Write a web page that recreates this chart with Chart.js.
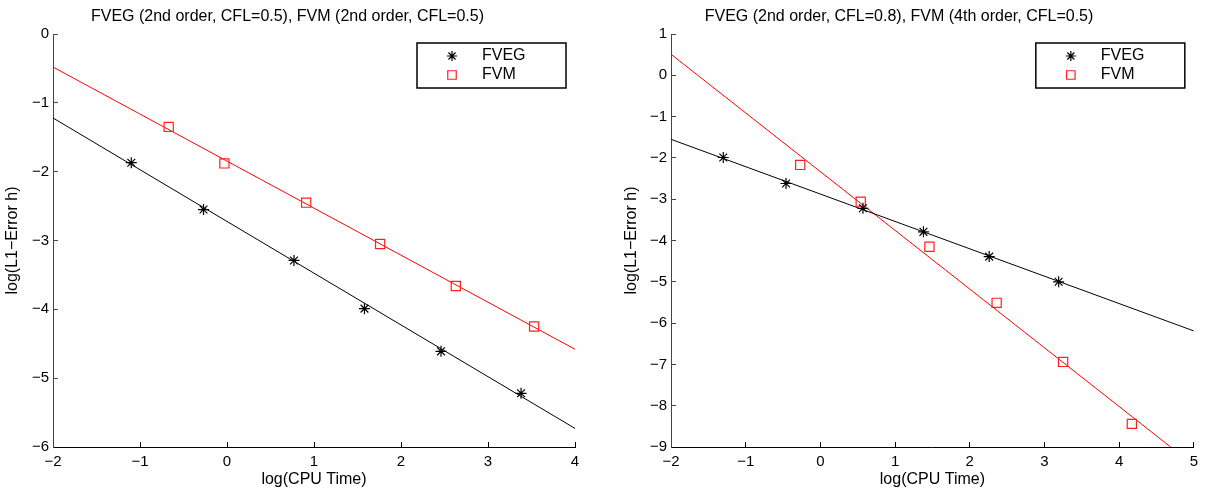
<!DOCTYPE html>
<html>
<head>
<meta charset="utf-8">
<script src="https://cdn.jsdelivr.net/npm/chart.js@4.4.1/dist/chart.umd.min.js"></script>
<style>
  body { margin: 0; background: #fff; }
  canvas { position: absolute; top: 0; }
  #c1 { left: 0; }
  #c2 { left: 604px; }
</style>
</head>
<body>
<canvas id="c1" width="604" height="493"></canvas>
<canvas id="c2" width="605" height="493"></canvas>
<script>
// left panel: FVEG 2nd order vs FVM 2nd order
const titulo1 = 'FVEG (2nd order, CFL=0.5), FVM (2nd order, CFL=0.5)';
const fvegX1 = [-1.10, -0.27, 0.77, 1.58, 2.46, 3.38];
const fvegY1 = [-1.87, -2.55, -3.29, -3.99, -4.61, -5.22];
const fvmX1 = [-0.67, -0.03, 0.91, 1.76, 2.63, 3.53];
const fvmY1 = [-1.35, -1.88, -2.45, -3.05, -3.66, -4.25];
const retaX1 = [-2, 4];
const retaFveg1 = [-1.22, -5.73];
const retaFvm1 = [-0.48, -4.58];

// right panel: FVEG 2nd order vs FVM 4th order
const titulo2 = 'FVEG (2nd order, CFL=0.8), FVM (4th order, CFL=0.5)';
const fvegX2 = [-1.30, -0.46, 0.57, 1.38, 2.26, 3.19];
const fvegY2 = [-1.99, -2.62, -3.22, -3.79, -4.39, -5.00];
const fvmX2 = [-0.27, 0.54, 1.46, 2.36, 3.25, 4.17];
const fvmY2 = [-2.17, -3.06, -4.15, -5.51, -6.94, -8.44];
const retaXFveg2 = [-2, 5];
const retaFveg2 = [-1.55, -6.19];
const retaXFvm2 = [-2, 4.69];
const retaFvm2 = [0.51, -9.00];

const legendas = ['FVEG', 'FVM'];

const fonte = 'Liberation Sans, Arial, Helvetica, sans-serif';
const menos = v => (v < 0 ? '\u2212' + Math.abs(v) : String(v));
const pares = (xs, ys) => xs.map((x, i) => ({ x, y: ys[i] }));

// legend box drawn inside the plot, top right
const caixaLegenda = {
  id: 'caixaLegenda',
  afterDatasetsDraw(chart) {
    const { ctx, chartArea } = chart;
    const w = 149, h = 45;
    const x0 = chartArea.right - 9 - w, y0 = chartArea.top + 9;
    ctx.save();
    ctx.strokeStyle = '#000';
    ctx.lineWidth = 1.5;
    ctx.strokeRect(x0, y0, w, h);
    const marcadores = chart.data.datasets.filter(d => d.legenda);
    marcadores.forEach((d, i) => {
      const y = y0 + 13 + i * 19;
      ctx.strokeStyle = d.borderColor;
      ctx.fillStyle = d.backgroundColor;
      ctx.lineWidth = d.borderWidth;
      Chart.helpers.drawPoint(ctx, { pointStyle: d.pointStyle, radius: d.legendaRaio, borderWidth: d.borderWidth }, x0 + 35, y);
      ctx.fillStyle = '#000';
      ctx.font = '16px ' + fonte;
      ctx.textBaseline = 'middle';
      ctx.fillText(d.label, x0 + 65, y);
    });
    ctx.restore();
  }
};

function graficoConvergencia(ctx, titulo, datasets, eixoX, eixoY, larguraY, yTitPad, padDireita) {
  return new Chart(ctx, {
    type: 'scatter',
    data: { datasets },
    options: {
      responsive: false,
      animation: false,
      layout: { padding: { right: padDireita, top: 0, bottom: 0, left: 0 } },
      plugins: {
        legend: { display: false },
        tooltip: { enabled: false },
        title: {
          display: true, text: titulo, color: '#000',
          font: { family: fonte, size: 16, weight: 'normal' },
          padding: { top: 7, bottom: 7.8 }
        }
      },
      scales: {
        x: {
          type: 'linear', min: eixoX[0], max: eixoX[1],
          afterFit: s => { s.height = 46; },
          border: { display: true, color: '#000', width: 1 },
          grid: { drawOnChartArea: false, drawTicks: true, tickLength: -5, color: '#000' },
          ticks: { stepSize: 1, color: '#000', padding: 11, font: { family: fonte, size: 15 }, callback: menos, maxRotation: 0 },
          title: { display: true, text: 'log(CPU Time)', color: '#000', font: { family: fonte, size: 16 }, padding: { top: 0, bottom: 4 } }
        },
        y: {
          type: 'linear', min: eixoY[0], max: eixoY[1],
          afterFit: s => { s.width = larguraY; },
          border: { display: true, color: '#444', width: 1 },
          grid: { drawOnChartArea: false, drawTicks: true, tickLength: -5, color: '#444' },
          ticks: { stepSize: 1, color: '#000', padding: 9, font: { family: fonte, size: 15 }, callback: menos },
          title: { display: true, text: 'log(L1\u2212Error h)', color: '#000', font: { family: fonte, size: 16 }, padding: { top: yTitPad, bottom: 0 } }
        }
      }
    },
    plugins: [caixaLegenda]
  });
}

function conjuntos(fvegX, fvegY, fvmX, fvmY, rxFveg, ryFveg, rxFvm, ryFvm) {
  return [
    { label: legendas[0], legenda: true, legendaRaio: 5, data: pares(fvegX, fvegY), pointStyle: 'star', pointRadius: 5.5,
      borderColor: '#000', backgroundColor: '#000', borderWidth: 1.2, showLine: false },
    { label: legendas[1], legenda: true, legendaRaio: 6, data: pares(fvmX, fvmY), pointStyle: 'rect', pointRadius: 6.5,
      borderColor: '#ff2020', backgroundColor: 'rgba(0,0,0,0)', borderWidth: 1.2, showLine: false },
    { label: 'ajuste FVEG', data: pares(rxFveg, ryFveg), showLine: true, pointRadius: 0,
      borderColor: '#000', borderWidth: 1, clip: true },
    { label: 'ajuste FVM', data: pares(rxFvm, ryFvm), showLine: true, pointRadius: 0,
      borderColor: '#ff0000', borderWidth: 1, clip: true }
  ];
}

graficoConvergencia(document.getElementById('c1'), titulo1,
  conjuntos(fvegX1, fvegY1, fvmX1, fvmY1, retaX1, retaFveg1, retaX1, retaFvm1),
  [-2, 4], [-6, 0], 53, 3, 29);

graficoConvergencia(document.getElementById('c2'), titulo2,
  conjuntos(fvegX2, fvegY2, fvmX2, fvmY2, retaXFveg2, retaFveg2, retaXFvm2, retaFvm2),
  [-2, 5], [-9, 1], 67, 18, 15);
</script>
</body>
</html>
